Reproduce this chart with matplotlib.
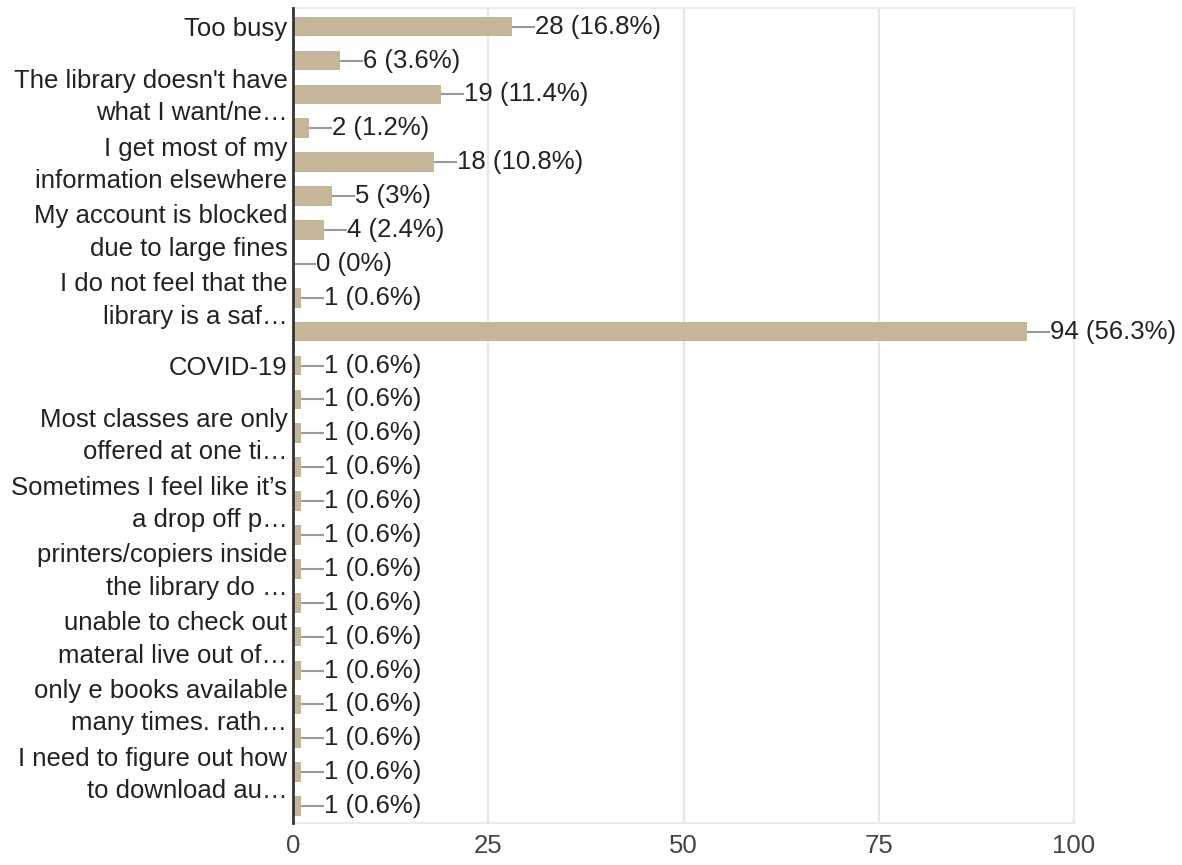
import matplotlib
matplotlib.use("Agg")
import matplotlib.pyplot as plt
import matplotlib.transforms as mtransforms

labels = [
    "Too busy", "",
    "The library doesn't have\nwhat I want/ne…", "",
    "I get most of my\ninformation elsewhere", "",
    "My account is blocked\ndue to large fines", "",
    "I do not feel that the\nlibrary is a saf…", "",
    "COVID-19", "",
    "Most classes are only\noffered at one ti…", "",
    "Sometimes I feel like it’s\na drop off p…", "",
    "printers/copiers inside\nthe library do …", "",
    "unable to check out\nmateral live out of…", "",
    "only e books available\nmany times. rath…", "",
    "I need to figure out how\nto download au…", "",
]
counts = [28, 6, 19, 2, 18, 5, 4, 0, 1, 94, 1, 1, 1, 1, 1, 1, 1, 1, 1, 1, 1, 1, 1, 1]
pcts = ["16.8%", "3.6%", "11.4%", "1.2%", "10.8%", "3%", "2.4%", "0%", "0.6%", "56.3%",
        "0.6%", "0.6%", "0.6%", "0.6%", "0.6%", "0.6%", "0.6%", "0.6%", "0.6%", "0.6%",
        "0.6%", "0.6%", "0.6%", "0.6%"]
xticks = [0, 25, 50, 75, 100]

plt.rcParams['font.family'] = ['Liberation Sans', 'DejaVu Sans']
W, H = 1182, 865
fig = plt.figure(figsize=(W / 100, H / 100), dpi=100)
ax = fig.add_axes([293 / W, 1 - 823 / H, (1074 - 293) / W, (823 - 8) / H])

FS = 18.5
n = len(counts)
ypos = list(range(n))
ax.barh(ypos, counts, height=0.58, color="#c5b697", zorder=2)
ax.set_xlim(0, 100)
ax.set_ylim(n - 0.5, -0.55)

px_per_unit = (1074 - 293) / 100.0
lead = 23 / px_per_unit
for y, c, p in zip(ypos, counts, pcts):
    ax.plot([c, c + lead], [y, y], color="#9a9a9a", lw=1.5, zorder=3, clip_on=False,
            solid_capstyle="butt")
    ax.text(c + lead, y, f"{c} ({p})", va="center", ha="left", fontsize=FS,
            color="#222222", clip_on=False)

ax.set_xticks(xticks)
ax.set_xticklabels([str(t) for t in xticks], fontsize=FS, color="#444444")
ax.set_yticks(ypos)
ax.set_yticklabels(labels, fontsize=FS, color="#222222", linespacing=1.45)
ax.tick_params(axis="both", length=0)
ax.tick_params(axis="x", pad=8)
ax.tick_params(axis="y", pad=4)

shift = mtransforms.ScaledTranslation(0, 4 / 100, fig.dpi_scale_trans)
for t in ax.get_yticklabels():
    if "\n" in t.get_text():
        t.set_transform(t.get_transform() + shift)

ax.grid(axis="x", color="#e6e6e6", lw=1.5, zorder=0)
ax.grid(axis="y", visible=False)
for s in ["top", "right", "bottom"]:
    ax.spines[s].set_color("#ebebeb")
    ax.spines[s].set_linewidth(1.5)
ax.spines["left"].set_color("#333333")
ax.spines["left"].set_linewidth(2)
ax.spines["left"].set_zorder(5)

fig.savefig("out.png", dpi=100)
